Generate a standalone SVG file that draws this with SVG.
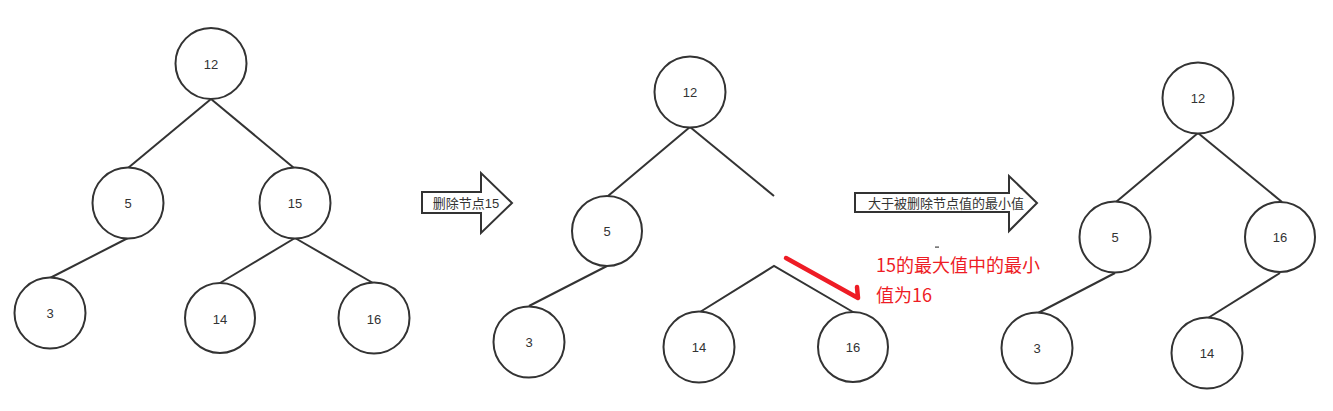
<svg xmlns="http://www.w3.org/2000/svg" width="1333" height="411" viewBox="0 0 1333 411">
<style>
.n circle{fill:#fff;stroke:#333;stroke-width:2}
.n text,.lbl{font-family:"Liberation Sans","Noto Sans CJK SC",sans-serif;font-size:13px;fill:#333;text-anchor:middle}
.c line,.c polyline{stroke:#333;stroke-width:2;fill:none}
.arr{fill:#fff;stroke:#333;stroke-width:2;stroke-linejoin:miter}
.red{font-family:"Noto Sans CJK SC","Liberation Sans",sans-serif;font-size:18px;fill:#ee1c25}
</style>
<rect width="1333" height="411" fill="#fff"/>
<g id="connectors" class="c">
<line x1="211" y1="99" x2="128" y2="168"/>
<line x1="211" y1="99" x2="294" y2="168"/>
<line x1="128" y1="238" x2="50" y2="278"/>
<line x1="295" y1="238" x2="220" y2="283"/>
<line x1="295" y1="238" x2="373" y2="283"/>
<line x1="690" y1="127" x2="608" y2="196"/>
<line x1="690" y1="127" x2="774" y2="196"/>
<line x1="607" y1="266" x2="529" y2="306"/>
<polyline points="700,312 774,266 853,312"/>
<line x1="1198" y1="133" x2="1116" y2="202"/>
<line x1="1198" y1="133" x2="1282" y2="202"/>
<line x1="1115" y1="273" x2="1038" y2="313"/>
<line x1="1280" y1="273" x2="1208" y2="318"/>
<polyline points="786,258 858,298 857,287" style="stroke:#ee1c25;stroke-width:4.5;stroke-linecap:round;stroke-linejoin:round"/>
</g>
<g id="t1-12" class="n"><circle cx="211" cy="63.5" r="35.5"/><text x="211" y="69">12</text></g>
<g id="t1-5" class="n"><circle cx="128" cy="203" r="35.5"/><text x="128" y="208">5</text></g>
<g id="t1-15" class="n"><circle cx="295" cy="203" r="35.5"/><text x="295" y="208">15</text></g>
<g id="t1-3" class="n"><circle cx="50" cy="313" r="35.5"/><text x="50" y="318">3</text></g>
<g id="t1-14" class="n"><circle cx="220" cy="318" r="35"/><text x="220" y="324">14</text></g>
<g id="t1-16" class="n"><circle cx="374" cy="318" r="35.5"/><text x="374" y="324">16</text></g>
<g id="arrow1"><polygon class="arr" points="422,192 481,192 481,173 512,203 481,233 481,213 422,213"/><text class="lbl" x="466" y="207.5">删除节点15</text></g>
<g id="t2-12" class="n"><circle cx="690" cy="92" r="35.5"/><text x="690" y="97">12</text></g>
<g id="t2-5" class="n"><circle cx="607" cy="231" r="35"/><text x="607" y="236">5</text></g>
<g id="t2-3" class="n"><circle cx="529" cy="342" r="35.5"/><text x="529" y="347">3</text></g>
<g id="t2-14" class="n"><circle cx="699" cy="347" r="35.5"/><text x="699" y="352">14</text></g>
<g id="t2-16" class="n"><circle cx="853" cy="347" r="35"/><text x="853" y="352">16</text></g>
<g id="arrow2"><polygon class="arr" points="855,193 1009,193 1009,176 1037,203 1009,231 1009,212 855,212"/><text class="lbl" x="946" y="207.5">大于被删除节点值的最小值</text></g>
<g id="note"><rect x="935" y="246.5" width="4" height="1.2" fill="#444"/><text class="red" x="876" y="272">15的最大值中的最小</text><text class="red" x="876" y="302">值为16</text></g>
<g id="t3-12" class="n"><circle cx="1198" cy="98" r="35.5"/><text x="1198" y="103">12</text></g>
<g id="t3-5" class="n"><circle cx="1115" cy="237" r="35.5"/><text x="1115" y="242">5</text></g>
<g id="t3-16" class="n"><circle cx="1280" cy="237" r="35"/><text x="1280" y="242">16</text></g>
<g id="t3-3" class="n"><circle cx="1037" cy="348" r="35.5"/><text x="1037" y="353">3</text></g>
<g id="t3-14" class="n"><circle cx="1207" cy="353" r="35.5"/><text x="1207" y="358">14</text></g>
</svg>
